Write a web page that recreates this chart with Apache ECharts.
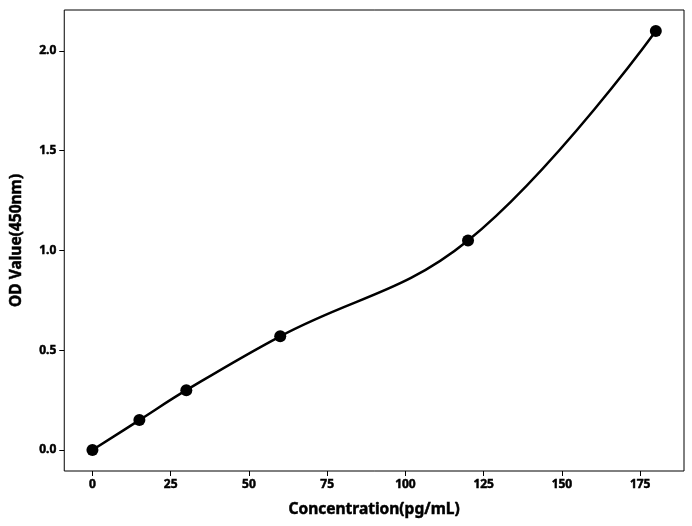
<!DOCTYPE html>
<html>
<head>
<meta charset="UTF-8">
<script src="https://cdn.jsdelivr.net/npm/echarts@6/dist/echarts.min.js"></script>
<style>
  html, body { margin: 0; padding: 0; background: #fff; }
  #main { width: 692px; height: 526px; }
</style>
</head>
<body>
<div id="main"></div>
<script>
// standard curve points
var concentration = [0, 15, 30, 60, 120, 180];
var odValue = [0, 0.15, 0.3, 0.57, 1.05, 2.1];
var xTicks = [0, 25, 50, 75, 100, 125, 150, 175];
var yTicks = [0.0, 0.5, 1.0, 1.5, 2.0];

var points = concentration.map(function (c, i) { return [c, odValue[i]]; });
var font = 'Noto Sans';
var heavy = { fontFamily: font, fontWeight: 'bold', color: '#000', textBorderColor: '#000', textBorderWidth: 0.5 };

var chart = echarts.init(document.getElementById('main'), null, { renderer: 'canvas' });

chart.setOption({
  animation: false,
  grid: { left: 61, right: 8, top: 10, bottom: 55, show: true, borderColor: '#000', borderWidth: 1 },
  xAxis: {
    type: 'value',
    min: -9, max: 189,
    name: 'Concentration(pg/mL)',
    nameLocation: 'middle',
    nameGap: 31,
    nameTextStyle: Object.assign({ fontSize: 15.5 }, heavy),
    axisLine: { show: false, onZero: false },
    axisTick: { show: true, length: 5, lineStyle: { color: '#000' },
      customValues: xTicks },
    axisLabel: Object.assign({ fontSize: 12, margin: 8, customValues: xTicks }, heavy),
    splitLine: { show: false }
  },
  yAxis: {
    type: 'value',
    min: -0.105, max: 2.205,
    name: 'OD Value(450nm)',
    nameLocation: 'middle',
    nameGap: 40,
    nameTextStyle: Object.assign({ fontSize: 15.5 }, heavy),
    axisLine: { show: false, onZero: false },
    axisTick: { show: true, length: 5, lineStyle: { color: '#000' },
      customValues: yTicks },
    axisLabel: Object.assign({ fontSize: 12, margin: 8, customValues: yTicks,
      formatter: function (v) { return v.toFixed(1); } }, heavy),
    splitLine: { show: false }
  },
  series: [
    {
      type: 'line',
      data: points,
      smooth: 0.4,
      symbol: 'none',
      lineStyle: { color: '#000', width: 2.5 }
    },
    {
      type: 'scatter',
      data: points,
      symbol: 'circle',
      symbolSize: 12,
      itemStyle: { color: '#000', opacity: 1 },
      z: 3
    }
  ]
});
</script>
</body>
</html>
